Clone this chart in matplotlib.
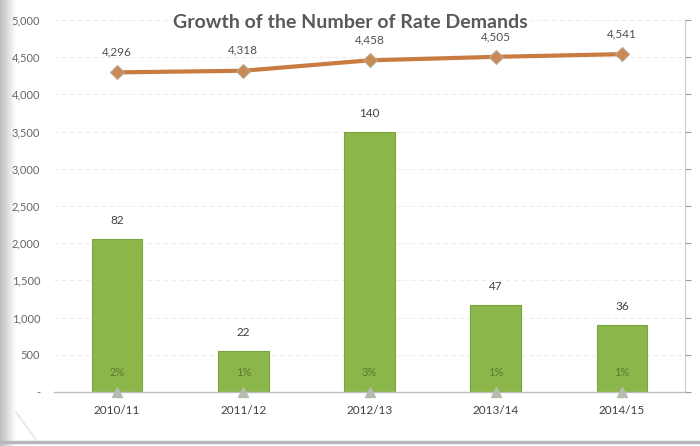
import matplotlib
matplotlib.use("Agg")
import matplotlib.pyplot as plt
import numpy as np
from matplotlib.lines import Line2D

years = ["2010/11", "2011/12", "2012/13", "2013/14", "2014/15"]
num_properties = [4296, 4318, 4458, 4505, 4541]   # line, left axis
rate_demands = [82, 22, 140, 47, 36]             # bars, right axis
pct_labels = ["2%", "1%", "3%", "1%", "1%"]

plt.rcParams['font.family'] = ['Lato', 'DejaVu Sans']

fig = plt.figure(figsize=(7, 4.46), dpi=100)
fig.patch.set_facecolor("white")

ax = fig.add_axes([54/700, 54/446, 631/700, 372/446])
ax2 = ax.twinx()
ax.set_zorder(ax2.get_zorder() + 1)
ax.patch.set_visible(False)

x = np.arange(len(years))

# bars on the secondary axis (0-200); its ticks line up with the left axis,
# so the grid is drawn here to stay behind the bars
ax2.bar(x, rate_demands, width=0.40, color="#8bb64a", edgecolor="#7aa53a",
        linewidth=0.8, zorder=2)
ax2.set_ylim(0, 200)
ax2.set_yticks(np.arange(0, 201, 20))
ax2.set_yticklabels(["-"] + [str(v) for v in range(20, 201, 20)])
ax2.tick_params(axis="y", colors="#9a9a9a", labelcolor="#666666", labelsize=8,
                length=4, direction="out", pad=9)
ax2.grid(axis="y", color="#ededed", linestyle=(0, (4, 3)), linewidth=0.8)
ax2.set_axisbelow(True)
for s in ["top", "left", "bottom"]:
    ax2.spines[s].set_visible(False)
ax2.spines["right"].set_color("#c8ccd2")

for xi, v in zip(x, rate_demands):
    ax2.text(xi, v + 7, str(v), ha="center", va="bottom", fontsize=8.5,
             color="#404040")

# main line on the left axis
ax.plot(x, num_properties, color="#c97c42", linewidth=3, marker="D",
        markersize=7, markerfacecolor="#c98a55", markeredgecolor="#b9a890",
        markeredgewidth=0.8, zorder=5)
for xi, v in zip(x, num_properties):
    ax.text(xi, v + 200, f"{v:,}", ha="center", va="bottom", fontsize=8.5,
            color="#505050")

# share labels and markers sitting on the category axis
ax.plot(x, [0] * len(x), linestyle="none", marker="^", markersize=6.5,
        color="#b4bdb0", clip_on=False, zorder=6)
for xi, p in zip(x, pct_labels):
    ax.text(xi, 260, p, ha="center", va="center", fontsize=8,
            color="#5a7a2e")

ax.set_xlim(-0.5, len(years) - 0.5)
ax.set_ylim(0, 5000)
ax.set_yticks(np.arange(0, 5001, 500))
ax.set_yticklabels(["-"] + [f"{v:,}" for v in range(500, 5001, 500)])
ax.tick_params(axis="y", length=0, labelsize=8, labelcolor="#666666", pad=10)
ax.set_xticks(x)
ax.set_xticklabels(years)
ax.tick_params(axis="x", length=0, labelsize=8.5, labelcolor="#404040", pad=9)
for s in ["top", "left", "right"]:
    ax.spines[s].set_visible(False)
ax.spines["bottom"].set_color("#b8c0b8")
ax.spines["bottom"].set_linewidth(1.0)

fig.text(0.5, 0.950, "Growth of the Number of Rate Demands", ha="center",
         va="center", fontsize=14, fontweight="bold", color="#595959")

# grey frame edge on the left and bottom of the page
edge = fig.add_axes([0, 0, 16/700, 1])
grad = np.tile(np.linspace(0.74, 1.0, 64), (8, 1))
edge.imshow(grad, cmap="gray", vmin=0, vmax=1, aspect="auto",
            extent=[0, 1, 0, 1])
edge.axis("off")
fig.add_artist(Line2D([0, 1], [4/446, 4/446], transform=fig.transFigure,
                      color="#b4b8bc", linewidth=2.5))
fig.add_artist(Line2D([16/700, 36/700], [34/446, 6/446],
                      transform=fig.transFigure, color="#e4e6e8",
                      linewidth=1.2))

fig.savefig("out.png", dpi=100)
